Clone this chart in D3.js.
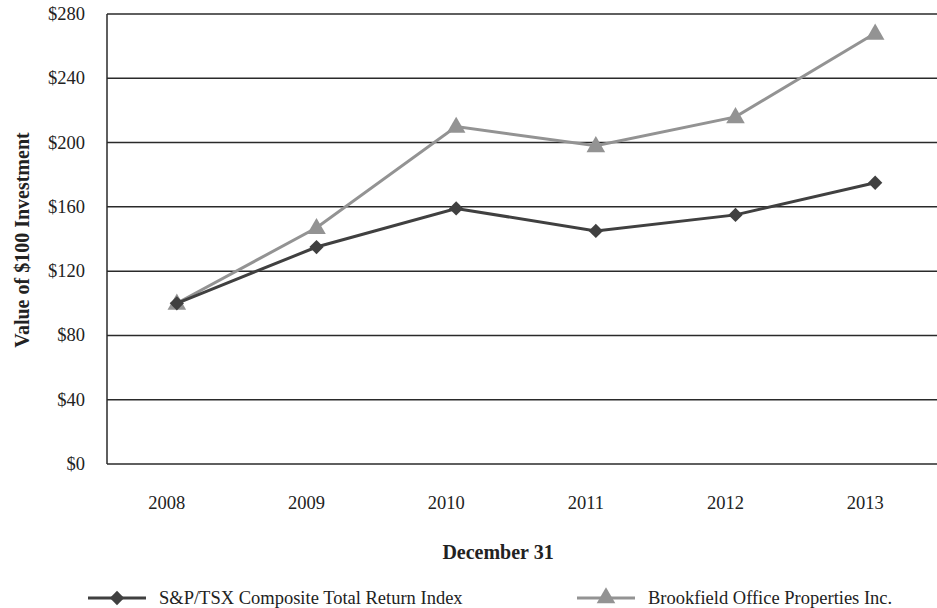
<html>
<head>
<meta charset="utf-8">
<script src="https://d3js.org/d3.v7.min.js"></script>
<style>
  body { margin: 0; background: #fff; }
  text { font-family: "Liberation Serif", "Times New Roman", serif; fill: #222; }
</style>
</head>
<body>
<svg id="chart" width="937" height="608"></svg>
<script>
// years on the x axis (December 31 of each)
var years = ["2008", "2009", "2010", "2011", "2012", "2013"];

// value of $100 invested
var spTsx = [100, 135, 159, 145, 155, 175];
var brookfield = [100, 147, 210, 198, 216, 268];

// y ticks
var yTicks = [0, 40, 80, 120, 160, 200, 240, 280];

var svg = d3.select("#chart");

var plotLeft = 107, plotTop = 14, plotBottom = 464, plotRight = 945;

var x = d3.scaleBand()
  .domain(years)
  .range([plotLeft, plotRight]);

var y = d3.scaleLinear()
  .domain([0, 280])
  .range([plotBottom, plotTop]);

// horizontal gridlines
svg.selectAll(".grid")
  .data(yTicks)
  .enter().append("line")
  .attr("x1", plotLeft)
  .attr("x2", 937)
  .attr("y1", function(d) { return y(d); })
  .attr("y2", function(d) { return y(d); })
  .style("stroke", "#2a2a2a")
  .style("stroke-width", 1.5);

// left axis line
svg.append("line")
  .attr("x1", plotLeft).attr("x2", plotLeft)
  .attr("y1", plotTop).attr("y2", plotBottom)
  .style("stroke", "#2a2a2a")
  .style("stroke-width", 1.5);

// y tick labels
svg.selectAll(".ylab")
  .data(yTicks)
  .enter().append("text")
  .attr("x", 85)
  .attr("y", function(d) { return y(d) + 6; })
  .attr("text-anchor", "end")
  .style("font-size", "18.5px")
  .text(function(d) { return "$" + d; });

// x labels (sit a bit left of the points, as in the original)
svg.selectAll(".xlab")
  .data(years)
  .enter().append("text")
  .attr("x", function(d) { return x(d) + x.bandwidth() / 2 - 10; })
  .attr("y", 509)
  .attr("text-anchor", "middle")
  .style("font-size", "18.5px")
  .text(function(d) { return d; });

// axis titles
svg.append("text")
  .attr("x", 498)
  .attr("y", 559)
  .attr("text-anchor", "middle")
  .style("font-size", "20px")
  .style("font-weight", "bold")
  .text("December 31");

svg.append("text")
  .attr("transform", "translate(29,240) rotate(-90)")
  .attr("text-anchor", "middle")
  .style("font-size", "20px")
  .style("font-weight", "bold")
  .text("Value of $100 Investment");

var cx = function(i) { return x(years[i]) + x.bandwidth() / 2; };

var line = d3.line()
  .x(function(d, i) { return cx(i); })
  .y(function(d) { return y(d); });

var diamond = d3.symbol().type(d3.symbolDiamond2).size(130);
var triangle = d3.symbol().type(d3.symbolTriangle).size(150);

// Brookfield series (drawn first, S&P on top)
svg.append("path")
  .datum(brookfield)
  .attr("d", line)
  .style("fill", "none")
  .style("stroke", "#939393")
  .style("stroke-width", 3);

svg.selectAll(".tri")
  .data(brookfield)
  .enter().append("path")
  .attr("d", triangle)
  .attr("transform", function(d, i) { return "translate(" + cx(i) + "," + (y(d) + 1) + ")"; })
  .style("fill", "#939393");

svg.append("path")
  .datum(spTsx)
  .attr("d", line)
  .style("fill", "none")
  .style("stroke", "#404040")
  .style("stroke-width", 3);

svg.selectAll(".dia")
  .data(spTsx)
  .enter().append("path")
  .attr("d", diamond)
  .attr("transform", function(d, i) { return "translate(" + cx(i) + "," + y(d) + ")"; })
  .style("fill", "#404040");

// legend
var legend = [
  { name: "S&P/TSX Composite Total Return Index", color: "#404040", sym: diamond, x0: 88 },
  { name: "Brookfield Office Properties Inc.", color: "#939393", sym: triangle, x0: 577 }
];

legend.forEach(function(l) {
  svg.append("line")
    .attr("x1", l.x0).attr("x2", l.x0 + 58)
    .attr("y1", 598).attr("y2", 598)
    .style("stroke", l.color)
    .style("stroke-width", 3);
  svg.append("path")
    .attr("d", l.sym)
    .attr("transform", "translate(" + (l.x0 + 29) + ",598)")
    .style("fill", l.color);
  svg.append("text")
    .attr("x", l.x0 + 71)
    .attr("y", 604)
    .style("font-size", "18.5px")
    .text(l.name);
});
</script>
</body>
</html>
